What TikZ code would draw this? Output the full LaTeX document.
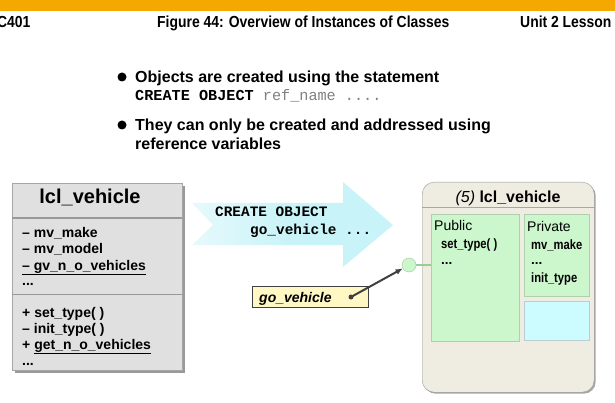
\documentclass[tikz,border=0pt]{standalone}
\usepackage{fontspec}
\setmainfont{Liberation Sans}
\newfontfamily\codefont{Liberation Mono}
\usetikzlibrary{shadows,arrows.meta}
\definecolor{barorange}{HTML}{F5A800}
\definecolor{classgray}{HTML}{E0E0E0}
\definecolor{arrowcyan}{HTML}{C8F3F8}
\definecolor{objbeige}{HTML}{EFEDE1}
\definecolor{pubgreen}{HTML}{CCF7CC}
\definecolor{boxcyan}{HTML}{CCFCFF}
\definecolor{refyellow}{HTML}{FFF7C4}
\definecolor{linedark}{HTML}{404040}
\tikzset{
  txt/.style={anchor=base west, inner sep=0pt},
  hdr/.style={txt, font=\fontsize{16}{16}\selectfont\bfseries},
  bul/.style={txt, font=\fontsize{16}{18}\selectfont\bfseries},
  member/.style={txt, font=\fontsize{14}{16}\selectfont\bfseries},
  objtxt/.style={txt, font=\fontsize{13.5}{15}\selectfont\bfseries},
  code/.style={txt, font=\fontsize{14.4}{16}\selectfont\codefont\bfseries},
  shape box/.style={draw, inner sep=0pt, anchor=north west},
}
\newcommand{\hscale}[1]{\scalebox{0.87}[1]{#1}}
\newcommand{\oscale}[1]{\scalebox{0.83}[1]{#1}}
\begin{document}
\begin{tikzpicture}[x=1pt,y=-1pt]
\useasboundingbox (0,0) rectangle (615,403);
% header
\fill[barorange] (0,0) rectangle (615,11);
\node[hdr] (hl) at (-3,27.5) {\hscale{C401}};
\node[hdr] (hc) at (157,27.5) {\hscale{Figure 44: Overview of Instances of Classes}};
\node[hdr] (hr) at (520,27.5) {\hscale{Unit 2 Lesson 2}};
% bullets
\fill (122,77) circle (4.5);
\fill (122,125) circle (4.5);
\node[bul] (b1) at (135,82.5) {Objects are created using the statement};
\node[txt, font=\fontsize{15.2}{16}\selectfont\codefont] (b1c) at (135,101) {\textbf{CREATE OBJECT} \textcolor{gray}{ref\_name ....}};
\node[bul] (b2) at (135,130.5) {They can only be created and addressed using};
\node[bul] (b3) at (135,149.5) {reference variables};
% class box
\node[shape box, fill=classgray, draw=gray!70, minimum width=170pt, minimum height=187pt,
  drop shadow={shadow xshift=3pt, shadow yshift=-3pt, fill=gray!80, opacity=1}] (cls) at (12,183) {};
\draw[gray!80, line width=2pt] (12,218) -- (182,218);
\draw[gray!80, line width=1pt] (12,294) -- (182,294);
\node[txt, font=\fontsize{20}{22}\selectfont\bfseries, anchor=base] (ct) at (90,204) {lcl\_vehicle};
\node[member] (m1) at (22,237) {-- mv\_make};
\node[member] (m2) at (22,253) {-- mv\_model};
\node[member] (m3) at (22,270) {\underline{-- gv\_n\_o\_vehicles}};
\node[member] (m4) at (22,285) {...};
\node[member] (m5) at (22,317) {+ set\_type( )};
\node[member] (m6) at (22,333) {-- init\_type( )};
\node[member] (m7) at (22,349) {+ \underline{get\_n\_o\_vehicles}};
\node[member] (m8) at (22,365) {...};
% big arrow
\shade[left color=arrowcyan!45!white, right color=arrowcyan, middle color=arrowcyan]
  (192,203) -- (343,203) -- (343,182) -- (393,225) -- (343,267)
  -- (343,245) -- (192,245) -- (213,225) -- cycle;
\node[code] (a1) at (215,217) {CREATE OBJECT};
\node[code] (a2) at (250,235) {go\_vehicle ...};
% object
\node[shape box, fill=objbeige, draw=gray!80, rounded corners=12pt, minimum width=172pt, minimum height=210pt,
  drop shadow={shadow xshift=1.5pt, shadow yshift=-1.5pt, fill=gray!70, opacity=1}] (obj) at (422,182) {};
\draw[gray!70, line width=1pt] (422,208) -- (594,208);
\node[txt, anchor=base, font=\fontsize{16}{18}\selectfont] (ot) at (508,203) {\textit{(5)} \textbf{lcl\_vehicle}};
\node[shape box, fill=pubgreen, draw=green!25!gray!50, minimum width=88pt, minimum height=127pt] (pub) at (431,214) {};
\node[shape box, fill=pubgreen, draw=green!25!gray!50, minimum width=65pt, minimum height=82pt] (priv) at (524,214) {};
\node[shape box, fill=boxcyan, draw=cyan!25!gray!50, minimum width=65pt, minimum height=39pt] (cyb) at (524,301) {};
\node[txt, font=\fontsize{14}{16}\selectfont] (pt) at (434,231) {Public};
\node[objtxt] (p1) at (441,248) {\oscale{set\_type( )}};
\node[objtxt] (p2) at (441,264) {...};
\node[txt, font=\fontsize{14}{16}\selectfont] (vt) at (527,232) {Private};
\node[objtxt] (v1) at (531,249) {\oscale{mv\_make}};
\node[objtxt] (v2) at (531,264) {...};
\node[objtxt] (v3) at (531,282) {\oscale{init\_type}};
% reference
\node[circle, fill=pubgreen, draw=green!30!gray!60, minimum size=14pt, inner sep=0pt] (circ) at (409,265) {};
\draw[green!35!gray!60, line width=1.5pt] (circ.east) -- (pub.west |- circ.east);
\node[shape box, fill=refyellow, draw=linedark, minimum width=116pt, minimum height=21pt] (ref) at (252,286) {};
\node[txt, font=\fontsize{14}{16}\selectfont\bfseries\itshape] (rt) at (259,302) {go\_vehicle};
\coordinate (dot) at (351,297);
\fill[linedark] (dot) circle (2.5);
\draw[linedark, line width=2pt, -{Latex[length=7pt,width=6pt]}] (dot) -- (circ);
\end{tikzpicture}
\end{document}
